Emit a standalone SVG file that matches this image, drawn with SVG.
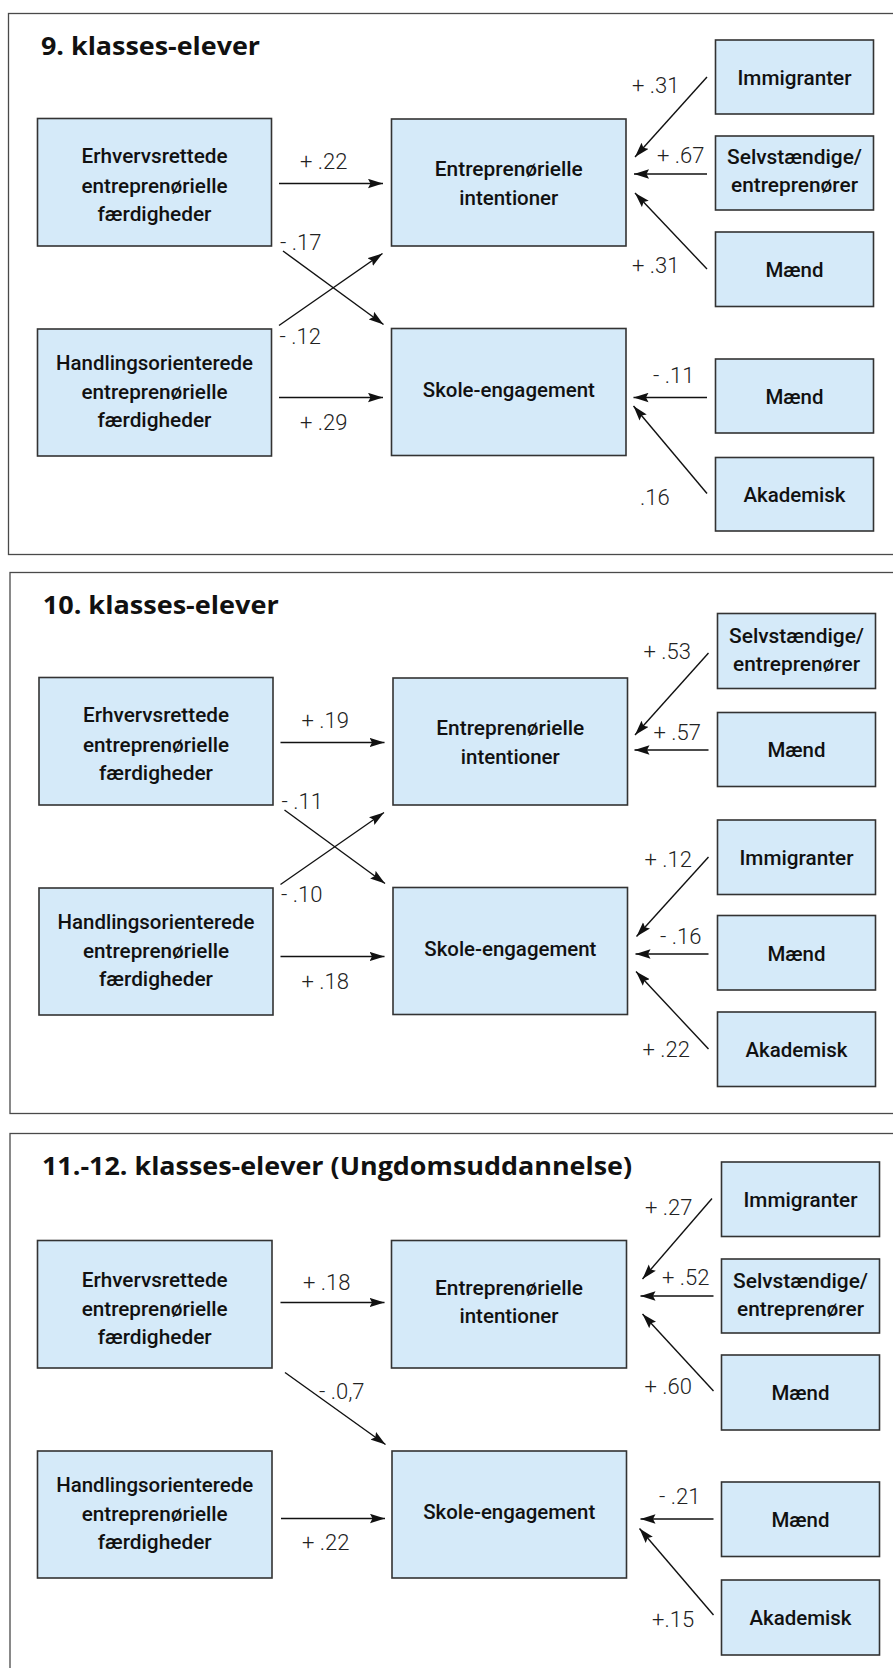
<svg xmlns="http://www.w3.org/2000/svg" width="893" height="1668" viewBox="0 0 893 1668">
  <defs>
    <marker id="ah" markerUnits="userSpaceOnUse" markerWidth="16" markerHeight="10" refX="15" refY="5" orient="auto">
      <path d="M0,0.3 L15,5 L0,9.7 L2.5,5 z" fill="#111"/>
    </marker>
    <style>
      .panel { fill: #ffffff; stroke: #4a4a4a; stroke-width: 1.3; }
      .title { font-family: "Open Sans", "Liberation Sans", sans-serif; font-weight: 700; font-size: 25px; fill: #111; }
      .node rect { fill: #d5eaf9; stroke: #333; stroke-width: 1.6; }
      .node text { font-family: Roboto, "Liberation Sans", sans-serif; font-weight: 500; font-size: 20px; fill: #111; text-anchor: middle; }
      .edge line { stroke: #111; stroke-width: 1.4; marker-end: url(#ah); }
      .lbl { font-family: Roboto, "Liberation Sans", sans-serif; font-weight: 300; font-size: 22px; fill: #222; }
    </style>
  </defs>

  <rect width="893" height="1668" fill="#ffffff"/>

  <!-- Panel frames -->
  <rect class="panel" x="8.5" y="13.5" width="900" height="541"/>
  <rect class="panel" x="10" y="572.5" width="900" height="541"/>
  <rect class="panel" x="10" y="1133.5" width="900" height="600"/>

  <!-- Panel titles -->
  <text class="title" x="41" y="55" textLength="219" lengthAdjust="spacingAndGlyphs">9. klasses-elever</text>
  <text class="title" x="42.7" y="613.6" textLength="236" lengthAdjust="spacingAndGlyphs">10. klasses-elever</text>
  <text class="title" x="42" y="1175" textLength="590" lengthAdjust="spacingAndGlyphs">11.-12. klasses-elever (Ungdomsuddannelse)</text>

  <!-- ===== Panel 1: 9. klasse ===== -->
  <g id="p1-erhverv" class="node">
    <rect x="37.5" y="118.5" width="234" height="127.5"/>
    <text x="154.5" y="163" textLength="146" lengthAdjust="spacingAndGlyphs">Erhvervsrettede</text>
    <text x="154.5" y="192.5" textLength="146" lengthAdjust="spacingAndGlyphs">entreprenørielle</text>
    <text x="154.5" y="220.5" textLength="114" lengthAdjust="spacingAndGlyphs">færdigheder</text>
  </g>
  <g id="p1-handling" class="node">
    <rect x="37.5" y="329" width="234" height="127"/>
    <text x="154.5" y="369.5" textLength="197" lengthAdjust="spacingAndGlyphs">Handlingsorienterede</text>
    <text x="154.5" y="398.5" textLength="146" lengthAdjust="spacingAndGlyphs">entreprenørielle</text>
    <text x="154.5" y="426.5" textLength="114" lengthAdjust="spacingAndGlyphs">færdigheder</text>
  </g>
  <g id="p1-intention" class="node">
    <rect x="391.5" y="119" width="234.5" height="127"/>
    <text x="508.8" y="176" textLength="148" lengthAdjust="spacingAndGlyphs">Entreprenørielle</text>
    <text x="508.8" y="204.5" textLength="99" lengthAdjust="spacingAndGlyphs">intentioner</text>
  </g>
  <g id="p1-skole" class="node">
    <rect x="391.5" y="328.5" width="234.5" height="127"/>
    <text x="508.8" y="397" textLength="172" lengthAdjust="spacingAndGlyphs">Skole-engagement</text>
  </g>
  <g id="p1-immig" class="node">
    <rect x="715.5" y="40" width="158" height="74"/>
    <text x="794.5" y="84.5" textLength="114" lengthAdjust="spacingAndGlyphs">Immigranter</text>
  </g>
  <g id="p1-selv" class="node">
    <rect x="715.5" y="136" width="158" height="74"/>
    <text x="794.5" y="164" textLength="135" lengthAdjust="spacingAndGlyphs">Selvstændige/</text>
    <text x="794.5" y="192" textLength="127" lengthAdjust="spacingAndGlyphs">entreprenører</text>
  </g>
  <g id="p1-maend1" class="node">
    <rect x="715.5" y="232" width="158" height="74.5"/>
    <text x="794.5" y="277" textLength="58" lengthAdjust="spacingAndGlyphs">Mænd</text>
  </g>
  <g id="p1-maend2" class="node">
    <rect x="715.5" y="359" width="158" height="74"/>
    <text x="794.5" y="403.5" textLength="58" lengthAdjust="spacingAndGlyphs">Mænd</text>
  </g>
  <g id="p1-akad" class="node">
    <rect x="715.5" y="457.5" width="158" height="73.5"/>
    <text x="794.5" y="501.5" textLength="102" lengthAdjust="spacingAndGlyphs">Akademisk</text>
  </g>

  <!-- ===== Panel 2: 10. klasse ===== -->
  <g id="p2-erhverv" class="node">
    <rect x="39" y="677.5" width="234" height="127.5"/>
    <text x="156" y="722" textLength="146" lengthAdjust="spacingAndGlyphs">Erhvervsrettede</text>
    <text x="156" y="751.5" textLength="146" lengthAdjust="spacingAndGlyphs">entreprenørielle</text>
    <text x="156" y="779.5" textLength="114" lengthAdjust="spacingAndGlyphs">færdigheder</text>
  </g>
  <g id="p2-handling" class="node">
    <rect x="39" y="888" width="234" height="127"/>
    <text x="156" y="928.5" textLength="197" lengthAdjust="spacingAndGlyphs">Handlingsorienterede</text>
    <text x="156" y="957.5" textLength="146" lengthAdjust="spacingAndGlyphs">entreprenørielle</text>
    <text x="156" y="985.5" textLength="114" lengthAdjust="spacingAndGlyphs">færdigheder</text>
  </g>
  <g id="p2-intention" class="node">
    <rect x="393" y="678" width="234.5" height="127"/>
    <text x="510.3" y="735" textLength="148" lengthAdjust="spacingAndGlyphs">Entreprenørielle</text>
    <text x="510.3" y="763.5" textLength="99" lengthAdjust="spacingAndGlyphs">intentioner</text>
  </g>
  <g id="p2-skole" class="node">
    <rect x="393" y="887.5" width="234.5" height="127"/>
    <text x="510.3" y="956" textLength="172" lengthAdjust="spacingAndGlyphs">Skole-engagement</text>
  </g>
  <g id="p2-selv" class="node">
    <rect x="717.5" y="613.5" width="158" height="75"/>
    <text x="796.5" y="642.5" textLength="135" lengthAdjust="spacingAndGlyphs">Selvstændige/</text>
    <text x="796.5" y="671" textLength="127" lengthAdjust="spacingAndGlyphs">entreprenører</text>
  </g>
  <g id="p2-maend1" class="node">
    <rect x="717.5" y="712.5" width="158" height="74"/>
    <text x="796.5" y="757" textLength="58" lengthAdjust="spacingAndGlyphs">Mænd</text>
  </g>
  <g id="p2-immig" class="node">
    <rect x="717.5" y="820" width="158" height="74.5"/>
    <text x="796.5" y="864.5" textLength="114" lengthAdjust="spacingAndGlyphs">Immigranter</text>
  </g>
  <g id="p2-maend2" class="node">
    <rect x="717.5" y="915.5" width="158" height="74.5"/>
    <text x="796.5" y="960.5" textLength="58" lengthAdjust="spacingAndGlyphs">Mænd</text>
  </g>
  <g id="p2-akad" class="node">
    <rect x="717.5" y="1012" width="158" height="74.5"/>
    <text x="796.5" y="1056.5" textLength="102" lengthAdjust="spacingAndGlyphs">Akademisk</text>
  </g>

  <!-- ===== Panel 3: 11.-12. klasse ===== -->
  <g id="p3-erhverv" class="node">
    <rect x="37.5" y="1240.5" width="234.5" height="127.5"/>
    <text x="154.7" y="1287" textLength="146" lengthAdjust="spacingAndGlyphs">Erhvervsrettede</text>
    <text x="154.7" y="1315.5" textLength="146" lengthAdjust="spacingAndGlyphs">entreprenørielle</text>
    <text x="154.7" y="1343.5" textLength="114" lengthAdjust="spacingAndGlyphs">færdigheder</text>
  </g>
  <g id="p3-handling" class="node">
    <rect x="37.5" y="1451" width="234.5" height="127"/>
    <text x="154.7" y="1491.5" textLength="197" lengthAdjust="spacingAndGlyphs">Handlingsorienterede</text>
    <text x="154.7" y="1520.5" textLength="146" lengthAdjust="spacingAndGlyphs">entreprenørielle</text>
    <text x="154.7" y="1548.5" textLength="114" lengthAdjust="spacingAndGlyphs">færdigheder</text>
  </g>
  <g id="p3-intention" class="node">
    <rect x="391.5" y="1240.5" width="235" height="127.5"/>
    <text x="509" y="1295" textLength="148" lengthAdjust="spacingAndGlyphs">Entreprenørielle</text>
    <text x="509" y="1323" textLength="99" lengthAdjust="spacingAndGlyphs">intentioner</text>
  </g>
  <g id="p3-skole" class="node">
    <rect x="392" y="1451" width="234.5" height="127"/>
    <text x="509.2" y="1518.5" textLength="172" lengthAdjust="spacingAndGlyphs">Skole-engagement</text>
  </g>
  <g id="p3-immig" class="node">
    <rect x="721.5" y="1162" width="158" height="74.5"/>
    <text x="800.5" y="1206.5" textLength="114" lengthAdjust="spacingAndGlyphs">Immigranter</text>
  </g>
  <g id="p3-selv" class="node">
    <rect x="721.5" y="1259" width="158" height="74"/>
    <text x="800.5" y="1287.5" textLength="135" lengthAdjust="spacingAndGlyphs">Selvstændige/</text>
    <text x="800.5" y="1316" textLength="127" lengthAdjust="spacingAndGlyphs">entreprenører</text>
  </g>
  <g id="p3-maend1" class="node">
    <rect x="721.5" y="1355" width="158" height="75"/>
    <text x="800.5" y="1400" textLength="58" lengthAdjust="spacingAndGlyphs">Mænd</text>
  </g>
  <g id="p3-maend2" class="node">
    <rect x="721.5" y="1482" width="158" height="74.5"/>
    <text x="800.5" y="1526.5" textLength="58" lengthAdjust="spacingAndGlyphs">Mænd</text>
  </g>
  <g id="p3-akad" class="node">
    <rect x="721.5" y="1580" width="158" height="75"/>
    <text x="800.5" y="1625" textLength="102" lengthAdjust="spacingAndGlyphs">Akademisk</text>
  </g>

  <!-- Connectors -->
  <g id="connectors" class="edge">
    <!-- panel 1 -->
    <line x1="279" y1="183.5" x2="383" y2="183.5"/>
    <line x1="283" y1="251" x2="383.5" y2="324.5"/>
    <line x1="279" y1="325.5" x2="382.5" y2="253.5"/>
    <line x1="279" y1="397.5" x2="383" y2="397.5"/>
    <line x1="707" y1="77" x2="635" y2="157"/>
    <line x1="707" y1="174" x2="634" y2="174"/>
    <line x1="707" y1="269" x2="635" y2="193"/>
    <line x1="707" y1="397.5" x2="633.5" y2="397.5"/>
    <line x1="707" y1="493.5" x2="633.5" y2="406"/>
    <!-- panel 2 -->
    <line x1="280.5" y1="742.5" x2="384.5" y2="742.5"/>
    <line x1="284.5" y1="810" x2="385" y2="883.5"/>
    <line x1="280.5" y1="884.5" x2="384" y2="812.5"/>
    <line x1="280.5" y1="956.5" x2="384.5" y2="956.5"/>
    <line x1="708.5" y1="653" x2="635" y2="735"/>
    <line x1="708.5" y1="750" x2="634.5" y2="750"/>
    <line x1="708.5" y1="857" x2="636.5" y2="936.5"/>
    <line x1="708.5" y1="954" x2="635.5" y2="954"/>
    <line x1="708.5" y1="1049" x2="636" y2="971.5"/>
    <!-- panel 3 -->
    <line x1="280.5" y1="1302.5" x2="384.5" y2="1302.5"/>
    <line x1="285" y1="1372.5" x2="385.5" y2="1444.5"/>
    <line x1="281" y1="1518.5" x2="385" y2="1518.5"/>
    <line x1="712" y1="1198.5" x2="642.5" y2="1279"/>
    <line x1="713.5" y1="1296" x2="640.5" y2="1296"/>
    <line x1="713.5" y1="1391" x2="642.5" y2="1314"/>
    <line x1="713.5" y1="1519" x2="640.5" y2="1519"/>
    <line x1="713.5" y1="1615" x2="639.5" y2="1528.5"/>
  </g>

  <!-- Path coefficients -->
  <g id="coefficients">
    <text class="lbl" x="300" y="169">+ .22</text>
    <text class="lbl" x="280" y="250">- .17</text>
    <text class="lbl" x="279.5" y="343.5">- .12</text>
    <text class="lbl" x="300" y="430">+ .29</text>
    <text class="lbl" x="632" y="93">+ .31</text>
    <text class="lbl" x="657" y="163">+ .67</text>
    <text class="lbl" x="632" y="273">+ .31</text>
    <text class="lbl" x="653" y="382.5">- .11</text>
    <text class="lbl" x="640" y="505">.16</text>

    <text class="lbl" x="301.5" y="728">+ .19</text>
    <text class="lbl" x="281.5" y="809">- .11</text>
    <text class="lbl" x="281" y="901.5">- .10</text>
    <text class="lbl" x="301.5" y="988.5">+ .18</text>
    <text class="lbl" x="643.5" y="658.5">+ .53</text>
    <text class="lbl" x="653.5" y="740">+ .57</text>
    <text class="lbl" x="644.5" y="866.5">+ .12</text>
    <text class="lbl" x="660" y="943.5">- .16</text>
    <text class="lbl" x="642.5" y="1056.5">+ .22</text>

    <text class="lbl" x="303" y="1289.5">+ .18</text>
    <text class="lbl" x="319" y="1398.5">- .0,7</text>
    <text class="lbl" x="302" y="1550">+ .22</text>
    <text class="lbl" x="645" y="1214.5">+ .27</text>
    <text class="lbl" x="662" y="1285">+ .52</text>
    <text class="lbl" x="644.5" y="1393.5">+ .60</text>
    <text class="lbl" x="659" y="1504">- .21</text>
    <text class="lbl" x="652" y="1626.5">+.15</text>
  </g>
</svg>
